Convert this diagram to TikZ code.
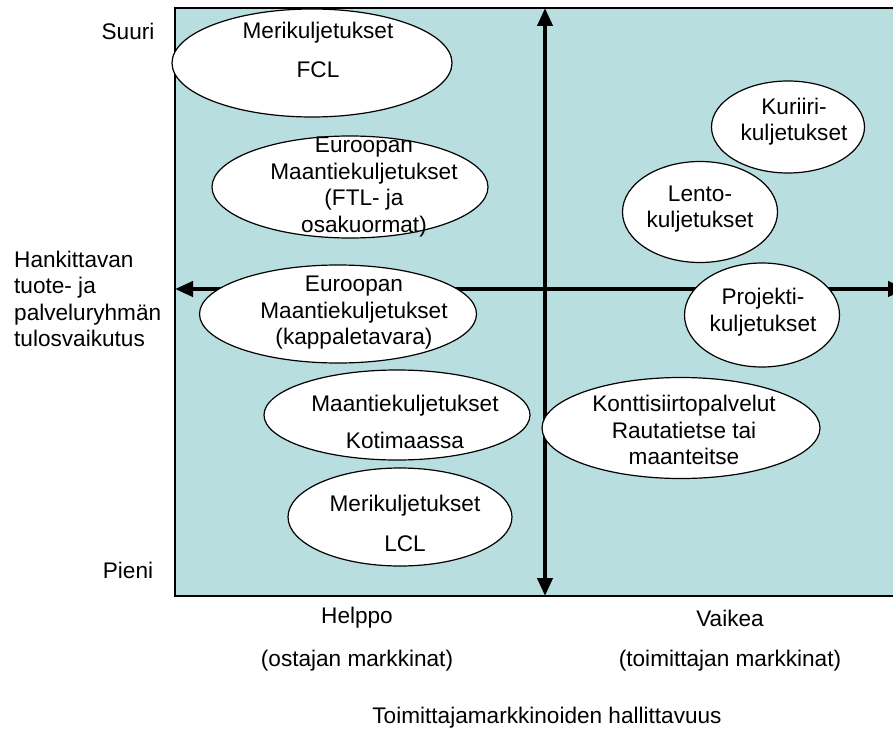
\documentclass[tikz,border=0pt]{standalone}
\usepackage{fontspec}
\setmainfont{Liberation Sans}
\usetikzlibrary{shapes.geometric,arrows.meta}
\definecolor{quadfill}{RGB}{184,222,224}
\begin{document}
\begin{tikzpicture}[x=1pt,y=-1pt,
  every node/.style={font=\fontsize{22.6}{26.5}\selectfont, inner sep=0pt},
  oval/.style={ellipse, draw=black, line width=1.2pt, fill=white, inner sep=0pt},
  ovaltext/.style={align=center},
  axis/.style={line width=4pt,
    {Triangle[length=18pt,width=15pt]}-{Triangle[length=18pt,width=15pt]}}]
\clip (0,0) rectangle (893,733);
\fill[white] (0,0) rectangle (893,733);

% quadrant field
\draw[fill=quadfill, line width=1.3pt] (175,8) rectangle (920,596);

% axes
\coordinate (ytop) at (545,8);
\coordinate (ybot) at (545,596);
\coordinate (xleft) at (175,289);
\coordinate (xright) at (906,289);
\draw[axis] (ybot) -- (ytop);
\draw[axis] (xleft) -- (xright);

% transport categories: outline first, text on top
\node[oval, minimum width=280, minimum height=108] (fcl) at (312,63) {};
\node[ovaltext] (fcl-t) at (318,50) {Merikuljetukset\\[12.5pt]FCL};

\node[oval, minimum width=276, minimum height=102] (ftl) at (350,187) {};
\node[ovaltext] (ftl-t) at (364,187) {Euroopan\\Maantiekuljetukset\\(FTL- ja\\osakuormat)};

\node[oval, minimum width=277, minimum height=98] (kpl) at (338,314) {};
\node[ovaltext] (kpl-t) at (354,313) {Euroopan\\Maantiekuljetukset\\(kappaletavara)};

\node[oval, minimum width=266, minimum height=90] (kot) at (397,415) {};
\node[ovaltext] (kot-t) at (405,421.5) {Maantiekuljetukset\\[10.5pt]Kotimaassa};

\node[oval, minimum width=224, minimum height=98] (lcl) at (400,517) {};
\node[ovaltext] (lcl-t) at (405,523) {Merikuljetukset\\[13.5pt]LCL};

\node[oval, minimum width=153, minimum height=92] (kur) at (788,127) {};
\node[ovaltext] (kur-t) at (794,121.5) {Kuriiri-\\kuljetukset};

\node[oval, minimum width=155, minimum height=101] (len) at (700,212) {};
\node[ovaltext] (len-t) at (700,209) {Lento-\\kuljetukset};

\node[oval, minimum width=155, minimum height=104] (pro) at (762,315) {};
\node[ovaltext] (pro-t) at (763,312) {Projekti-\\kuljetukset};

\node[oval, minimum width=278, minimum height=101] (kon) at (681,428) {};
\node[ovaltext] (kon-t) at (684,430) {Konttisiirtopalvelut\\Rautatietse tai\\maanteitse};

% axis labels
\node (suuri) at (128,31) {Suuri};
\node (pieni) at (128,570) {Pieni};
\node[anchor=west, align=left] (yaxis) at (14,299)
  {Hankittavan\\tuote- ja\\palveluryhmän\\tulosvaikutus};
\node (helppo) at (357,618) {Helppo};
\node (ostajan) at (357,661) {(ostajan markkinat)};
\node (vaikea) at (730,618) {Vaikea};
\node (toimittajan) at (730,661) {(toimittajan markkinat)};
\node (xaxis) at (547,718) {Toimittajamarkkinoiden hallittavuus};
\end{tikzpicture}
\end{document}
